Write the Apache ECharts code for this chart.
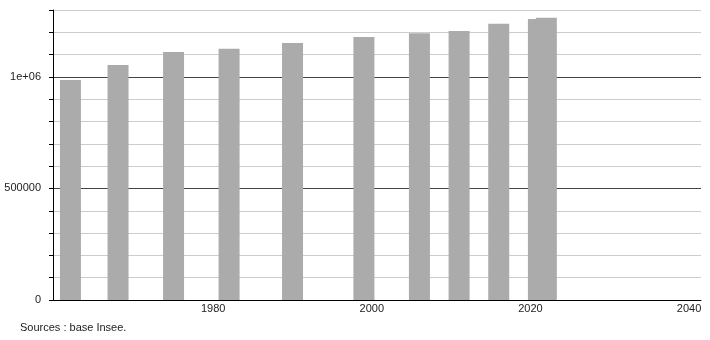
<!DOCTYPE html>
<html><head><meta charset="utf-8">
<script src="https://cdn.jsdelivr.net/npm/echarts@6/dist/echarts.min.js"></script>
<style>html,body{margin:0;padding:0;background:#fff}#c{width:710px;height:340px}</style>
</head><body><div id="c"></div>
<script>
const years = [1962, 1968, 1975, 1982, 1990, 1999, 2006, 2011, 2016, 2021, 2022];
const population = [986000, 1054000, 1112000, 1126000, 1152000, 1179000, 1196000, 1206000, 1238000, 1260000, 1265000];
const xTickLabels = [1980, 2000, 2020, 2040];
const yTickLabels = {0: '0', 500000: '500000', 1000000: '1e+06'};
const source = 'Sources : base Insee.';

const chart = echarts.init(document.getElementById('c'), null, {renderer: 'canvas'});
chart.setOption({
  animation: false,
  textStyle: {fontFamily: 'Liberation Sans, Arial, sans-serif'},
  grid: {left: 53, right: 9, top: 10, bottom: 40, containLabel: false},
  xAxis: {
    type: 'value', min: 1959.8, max: 2041.5,
    axisLine: {show: true, onZero: false, lineStyle: {color: '#000', width: 1}},
    axisTick: {show: false},
    splitLine: {show: false},
    axisLabel: {customValues: xTickLabels, color: '#222', fontSize: 11, margin: 3,
      showMinLabel: true, showMaxLabel: true, formatter: v => String(Math.round(v))}
  },
  yAxis: {
    type: 'value', min: 0, max: 1300000, interval: 100000,
    axisLine: {show: true, lineStyle: {color: '#000', width: 1}},
    axisTick: {show: true, length: 4, lineStyle: {color: '#000'}},
    axisLabel: {color: '#222', fontSize: 11, margin: 12,
      formatter: v => (yTickLabels[v] !== undefined ? yTickLabels[v] : '')},
    splitLine: {show: true, lineStyle: {color: ['#444', '#cccccc', '#cccccc', '#cccccc', '#cccccc'], width: 1}}
  },
  series: [{
    type: 'bar', barWidth: 21,
    itemStyle: {color: '#ababab'},
    data: years.map((y, i) => [y, population[i]])
  }],
  graphic: [{type: 'text', left: 20, top: 322, style: {text: source, fill: '#222', font: '11px Liberation Sans, Arial, sans-serif'}}]
});
</script></body></html>
